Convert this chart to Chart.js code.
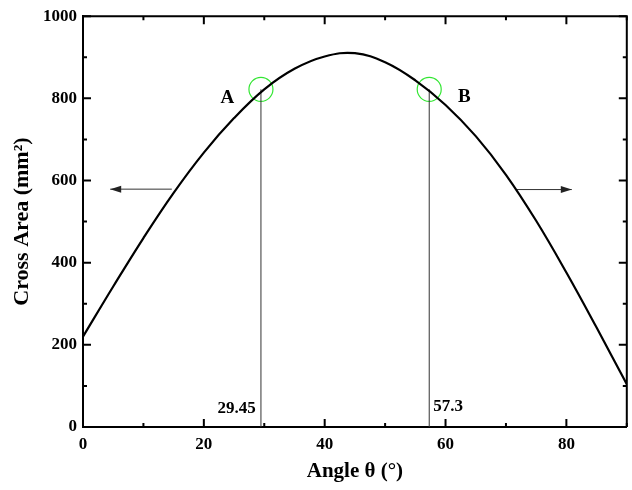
<!DOCTYPE html>
<html>
<head>
<meta charset="utf-8">
<script src="https://cdn.jsdelivr.net/npm/chart.js@4.4.1/dist/chart.umd.min.js"></script>
<style>
html, body { margin: 0; padding: 0; background: #fff; overflow: hidden; }
#wrap { width: 640px; height: 490px; }
</style>
</head>
<body>
<div id="wrap"><canvas id="chart" width="640" height="490"></canvas></div>
<script>
// curve
const angles = [0, 5, 10, 15, 20, 25, 30, 35, 40, 45, 50, 55, 60, 65, 70, 75, 80, 85, 90];
const areas = [220, 342, 460, 570, 668, 752, 822, 872, 902, 910, 888, 844, 784, 708, 614, 502, 376, 242, 104];

// marked points A and B
const markAngles = [29.45, 57.3];
const markAreas = [822, 822];
const markNames = ['A', 'B'];
const markNamePos = [[23.9, 800], [63.1, 802]];
const markValueText = ['29.45', '57.3'];
const markValuePos = [[28.6, 44], [57.95, 50]];

// arrows (start -> tip)
const leftArrow = [[14.7, 579], [4.5, 579]];
const rightArrow = [[71.7, 578], [80.9, 578]];

const xTicks = [0, 20, 40, 60, 80];
const xMinor = [10, 30, 50, 70, 90];
const yTicks = [0, 200, 400, 600, 800, 1000];
const yMinor = [100, 300, 500, 700, 900];

const SERIF = "'Liberation Serif', 'Times New Roman', serif";

const framePlugin = {
    id: 'frame',
    afterDatasetsDraw(chart) {
        const { ctx, chartArea: a, scales: { x, y } } = chart;
        ctx.save();
        ctx.strokeStyle = '#000';
        ctx.lineWidth = 2;
        ctx.beginPath();
        ctx.moveTo(a.left, a.top);
        ctx.lineTo(a.right, a.top);
        ctx.lineTo(a.right, a.bottom);
        ctx.stroke();

        // inward ticks on all four sides
        const tick = (vals, len) => {
            vals.forEach(v => {
                const px = x.getPixelForValue(v);
                ctx.moveTo(px, a.bottom); ctx.lineTo(px, a.bottom - len);
                ctx.moveTo(px, a.top); ctx.lineTo(px, a.top + len);
            });
        };
        const ytick = (vals, len) => {
            vals.forEach(v => {
                const py = y.getPixelForValue(v);
                ctx.moveTo(a.left, py); ctx.lineTo(a.left + len, py);
                ctx.moveTo(a.right, py); ctx.lineTo(a.right - len, py);
            });
        };
        ctx.beginPath();
        tick(xTicks, 8); tick(xMinor, 4);
        ytick(yTicks, 8); ytick(yMinor, 4);
        ctx.stroke();

        // arrow heads
        ctx.fillStyle = '#222';
        [leftArrow, rightArrow].forEach(arr => {
            const sx = x.getPixelForValue(arr[0][0]);
            const tx = x.getPixelForValue(arr[1][0]);
            const ty = y.getPixelForValue(arr[1][1]);
            const dir = tx > sx ? 1 : -1;
            ctx.beginPath();
            ctx.moveTo(tx, ty);
            ctx.lineTo(tx - dir * 11, ty - 3.5);
            ctx.lineTo(tx - dir * 11, ty + 3.5);
            ctx.closePath();
            ctx.fill();
        });

        // labels
        ctx.fillStyle = '#000';
        ctx.textBaseline = 'middle';
        ctx.font = 'bold 19px ' + SERIF;
        ctx.textAlign = 'center';
        markNames.forEach((n, i) => {
            ctx.fillText(n, x.getPixelForValue(markNamePos[i][0]), y.getPixelForValue(markNamePos[i][1]));
        });
        ctx.font = 'bold 17px ' + SERIF;
        markValueText.forEach((t, i) => {
            ctx.textAlign = i === 0 ? 'right' : 'left';
            ctx.fillText(t, x.getPixelForValue(markValuePos[i][0]), y.getPixelForValue(markValuePos[i][1]));
        });
        ctx.restore();
    }
};

const lineSet = (pts, color, width) => ({
    data: pts.map(p => ({ x: p[0], y: p[1] })),
    borderColor: color,
    borderWidth: width,
    pointRadius: 0,
    tension: 0,
    fill: false
});

const ctx = document.getElementById('chart').getContext('2d');
new Chart(ctx, {
    type: 'line',
    data: {
        datasets: [
            {
                data: angles.map((a, i) => ({ x: a, y: areas[i] })),
                borderColor: '#000',
                borderWidth: 2.2,
                pointRadius: 0,
                tension: 0.4,
                fill: false
            },
            lineSet([[markAngles[0], 0], [markAngles[0], markAreas[0]]], '#333', 1),
            lineSet([[markAngles[1], 0], [markAngles[1], markAreas[1]]], '#333', 1),
            lineSet(leftArrow, '#333', 1),
            lineSet(rightArrow, '#333', 1),
            {
                type: 'scatter',
                data: markAngles.map((a, i) => ({ x: a, y: markAreas[i] })),
                pointRadius: 12,
                pointBorderColor: '#33e633',
                pointBackgroundColor: 'rgba(0,0,0,0)',
                pointBorderWidth: 1.2,
                showLine: false
            }
        ]
    },
    options: {
        responsive: false,
        animation: false,
        events: [],
        layout: { padding: { top: 14, right: 6, left: 0, bottom: 0 } },
        plugins: { legend: { display: false }, tooltip: { enabled: false } },
        scales: {
            x: {
                type: 'linear',
                min: 0,
                max: 90,
                afterBuildTicks: s => { s.ticks = xTicks.map(v => ({ value: v })); },
                afterFit: s => { s.height = 63; },
                grid: { display: false, drawTicks: false },
                border: { display: true, color: '#000', width: 2 },
                ticks: { color: '#000', padding: 7, callback: v => String(v), font: { family: SERIF, size: 17, weight: 'bold' } },
                title: {
                    display: true,
                    text: 'Angle θ (°)',
                    color: '#000',
                    padding: { top: 0, bottom: 6 },
                    font: { family: SERIF, size: 21, weight: 'bold' }
                }
            },
            y: {
                type: 'linear',
                min: 0,
                max: 1000,
                afterBuildTicks: s => { s.ticks = yTicks.map(v => ({ value: v })); },
                afterFit: s => { s.width = 83; },
                grid: { display: false, drawTicks: false },
                border: { display: true, color: '#000', width: 2 },
                ticks: { color: '#000', padding: 6, callback: v => String(v), font: { family: SERIF, size: 17, weight: 'bold' } },
                title: {
                    display: true,
                    text: 'Cross Area (mm²)',
                    color: '#000',
                    padding: { top: 9, bottom: 0 },
                    font: { family: SERIF, size: 22, weight: 'bold' }
                }
            }
        }
    },
    plugins: [framePlugin]
});
</script>
</body>
</html>
